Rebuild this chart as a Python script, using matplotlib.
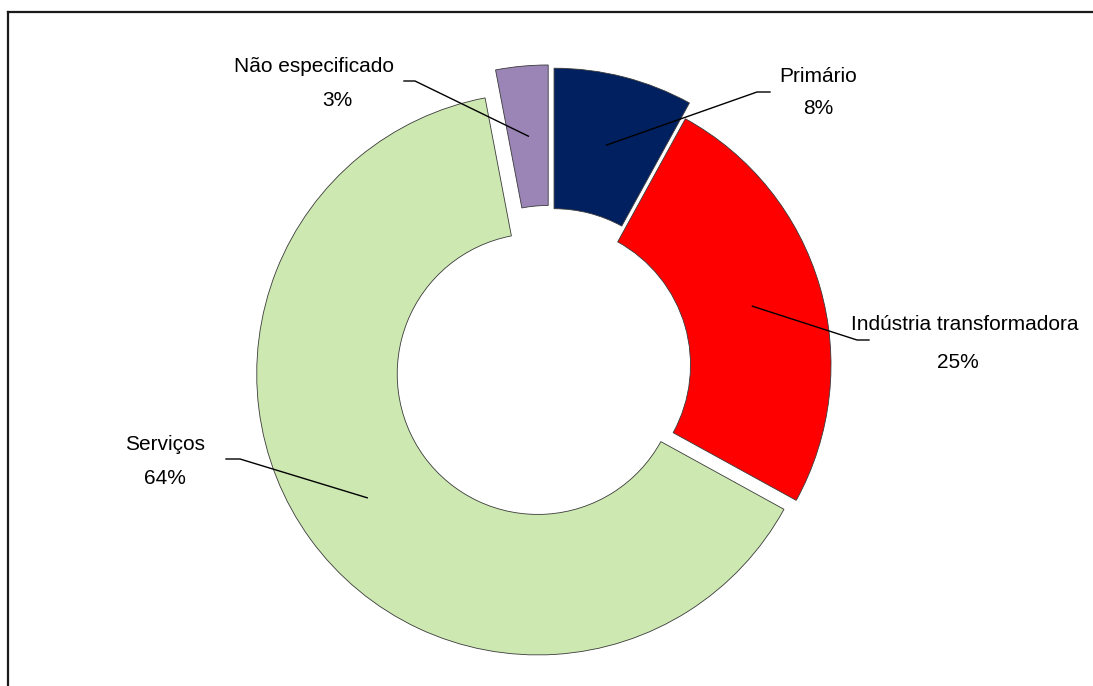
import matplotlib
matplotlib.use('Agg')
import matplotlib.pyplot as plt
import numpy as np
from matplotlib import font_manager
from matplotlib.lines import Line2D

# dados
categorias = ['Primário', 'Indústria transformadora', 'Serviços', 'Não especificado']
percentagens = [8, 25, 64, 3]
rotulos_pct = ['8%', '25%', '64%', '3%']
cores = ['#002060', '#FF0000', '#CDE9B1', '#9A85B6']
destaque = [0.058, 0.0, 0.054, 0.068]

W, H = 1093, 686
R_PX = 281          # raio exterior em pixeis
CX, CY = 550, 365   # centro do anel em pixeis

# posicoes dos rotulos (pixeis): nome, percentagem, cotovelo, fim da linha
pos_nome = [(818, 77), (965, 325), (165, 445), (314, 66)]
pos_pct = [(818, 108), (958, 362), (165, 478), (337, 100)]
cotovelo = [(757, 92), (857, 340), (240, 459), (415, 81)]
fim_linha = [(770, 92), (869, 340), (226, 459), (404, 81)]

nomes_fontes = {f.name for f in font_manager.fontManager.ttflist}
if 'Liberation Sans Narrow' in nomes_fontes:
    fonte, tam = 'Liberation Sans Narrow', 18
else:
    fonte, tam = 'Liberation Sans', 15


def to_data(x, y):
    return (x - CX) / R_PX, (CY - y) / R_PX


fig = plt.figure(figsize=(W / 100, H / 100), dpi=100)
ax = fig.add_axes([0, 0, 1, 1])

wedges, _ = ax.pie(percentagens, colors=cores, explode=destaque, startangle=90,
                   counterclock=False, radius=1,
                   wedgeprops=dict(width=0.5, edgecolor='#3a3a3a', linewidth=0.6))
ax.set_aspect('auto')
ax.set_xlim(-CX / R_PX, (W - CX) / R_PX)
ax.set_ylim(-(H - CY) / R_PX, CY / R_PX)
ax.axis('off')

for i, w in enumerate(wedges):
    ang = np.deg2rad((w.theta1 + w.theta2) / 2)
    x0 = w.center[0] + 0.75 * np.cos(ang)
    y0 = w.center[1] + 0.75 * np.sin(ang)
    x1, y1 = to_data(*cotovelo[i])
    x2, y2 = to_data(*fim_linha[i])
    ax.plot([x0, x1, x2], [y0, y1, y2], color='black', lw=1.0)
    nx, ny = pos_nome[i]
    px, py = pos_pct[i]
    fig.text(nx / W, 1 - ny / H, categorias[i], ha='center', va='center',
             fontsize=tam, family=fonte, color='black')
    fig.text(px / W, 1 - py / H, rotulos_pct[i], ha='center', va='center',
             fontsize=tam, family=fonte, color='black')

# moldura da area do grafico
fig.add_artist(Line2D([7.5 / W, 7.5 / W], [0, 1 - 12 / H], color='#1a1a1a', lw=1.6,
                      transform=fig.transFigure))
fig.add_artist(Line2D([7.5 / W, 1], [1 - 12 / H, 1 - 12 / H], color='#1a1a1a', lw=1.6,
                      transform=fig.transFigure))

fig.savefig('out.png', dpi=100)
